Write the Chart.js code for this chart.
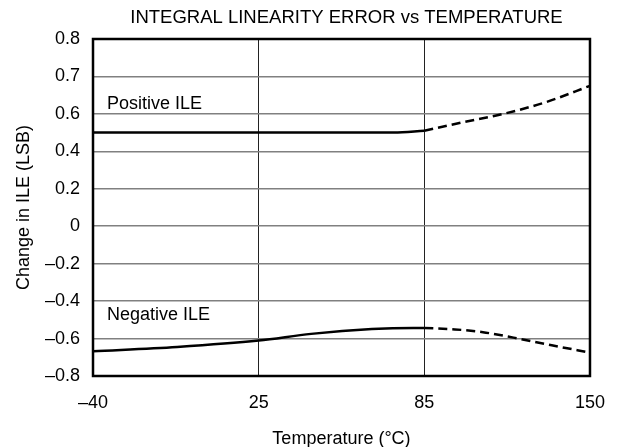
<!DOCTYPE html>
<html><head><meta charset="utf-8">
<script src="https://cdn.jsdelivr.net/npm/chart.js@4.4.1/dist/chart.umd.min.js"></script>
<style>html,body{margin:0;padding:0;background:#fff}#wrap{width:621px;height:447px;position:relative}</style>
</head><body><div id="wrap"><canvas id="c"></canvas></div>
<script>
// Tick marks (evenly spaced on the page, uneven in value)
const xTickTemps = [-40, 25, 85, 150];
const xTickLabels = ["–40", "25", "85", "150"];
const yTickValues = [-0.8, -0.6, -0.4, -0.2, 0, 0.2, 0.4, 0.6, 0.7, 0.8];
const yTickLabels = ["–0.8", "–0.6", "–0.4", "–0.2", "0", "0.2", "0.4", "0.6", "0.7", "0.8"];

// Positive ILE
const posTempSolid = [-40, 25, 74, 85];
const posValSolid  = [0.5, 0.5, 0.5, 0.51];
const posTempDash  = [85, 100, 116, 133, 150];
const posValDash   = [0.51, 0.555, 0.6, 0.632, 0.675];
// Negative ILE
const negTempSolid = [-40, -7, 25, 44, 66, 81, 85];
const negValSolid  = [-0.668, -0.645, -0.611, -0.575, -0.549, -0.543, -0.543];
const negTempDash  = [85, 97, 108, 120, 135, 150];
const negValDash   = [-0.543, -0.551, -0.566, -0.595, -0.636, -0.675];

const chartTitle = "INTEGRAL LINEARITY ERROR vs TEMPERATURE";
const xTitle = "Temperature (°C)";
const yTitle = "Change in ILE (LSB)";
const curveLabels = [
  {text: "Positive ILE", t: -34.5, v: 0.627},
  {text: "Negative ILE", t: -34.5, v: -0.474}
];

function toPos(v, ticks) {
  for (let i = 0; i < ticks.length - 1; i++) {
    if (v <= ticks[i + 1] || i === ticks.length - 2) return i + (v - ticks[i]) / (ticks[i + 1] - ticks[i]);
  }
}
function pts(ts, vs) { return ts.map((t, i) => ({x: toPos(t, xTickTemps), y: toPos(vs[i], yTickValues)})); }

const FONT = '"Liberation Sans", Arial, Helvetica, sans-serif';
Chart.defaults.font.family = FONT;
Chart.defaults.font.size = 18;
Chart.defaults.color = '#000';

function ds(data, dashed) {
  return {data, borderColor: '#000', borderWidth: 2.5, pointRadius: 0, fill: false,
    cubicInterpolationMode: 'monotone', borderDash: dashed ? [9, 5] : [], borderCapStyle: 'butt'};
}

const framePlugin = {
  id: 'frame',
  afterDraw(chart) {
    const {ctx, chartArea: a, scales} = chart;
    ctx.save();
    ctx.strokeStyle = '#000';
    ctx.lineWidth = 2.5;
    ctx.strokeRect(a.left, a.top, a.right - a.left, a.bottom - a.top);
    ctx.fillStyle = '#000';
    ctx.font = '18.5px ' + FONT;
    ctx.textAlign = 'center';
    ctx.textBaseline = 'middle';
    ctx.fillText(chartTitle, (a.left + a.right) / 2 + 5, 18);
    ctx.font = '18px ' + FONT;
    ctx.textAlign = 'left';
    curveLabels.forEach(l => {
      ctx.fillText(l.text, scales.x.getPixelForValue(toPos(l.t, xTickTemps)), scales.y.getPixelForValue(toPos(l.v, yTickValues)));
    });
    ctx.restore();
  }
};

new Chart(document.getElementById('c'), {
  type: 'line',
  data: {datasets: [
    ds(pts(posTempSolid, posValSolid), false),
    ds(pts(posTempDash, posValDash), true),
    ds(pts(negTempSolid, negValSolid), false),
    ds(pts(negTempDash, negValDash), true)
  ]},
  options: {
    responsive: true, maintainAspectRatio: false, animation: false,
    layout: {padding: {top: 39, right: 31, bottom: 0, left: 0}},
    plugins: {legend: {display: false}, tooltip: {enabled: false}},
    scales: {
      x: {type: 'linear', min: 0, max: xTickTemps.length - 1,
        ticks: {stepSize: 1, autoSkip: false, maxRotation: 0, padding: 16,
          callback: v => xTickLabels[Math.round(v)]},
        grid: {color: '#222', lineWidth: 1, drawTicks: false},
        border: {display: false},
        title: {display: true, text: xTitle, padding: {top: 0, bottom: -3}},
        afterFit: s => { s.height = 71; }
      },
      y: {type: 'linear', min: 0, max: yTickValues.length - 1,
        ticks: {stepSize: 1, autoSkip: false, padding: 13,
          callback: v => yTickLabels[Math.round(v)]},
        grid: {color: '#808080', lineWidth: 1.5, drawTicks: false},
        border: {display: false},
        title: {display: true, text: yTitle, padding: {top: 13, bottom: 0}},
        afterFit: s => { s.width = 93; }
      }
    }
  },
  plugins: [framePlugin]
});
</script></body></html>
